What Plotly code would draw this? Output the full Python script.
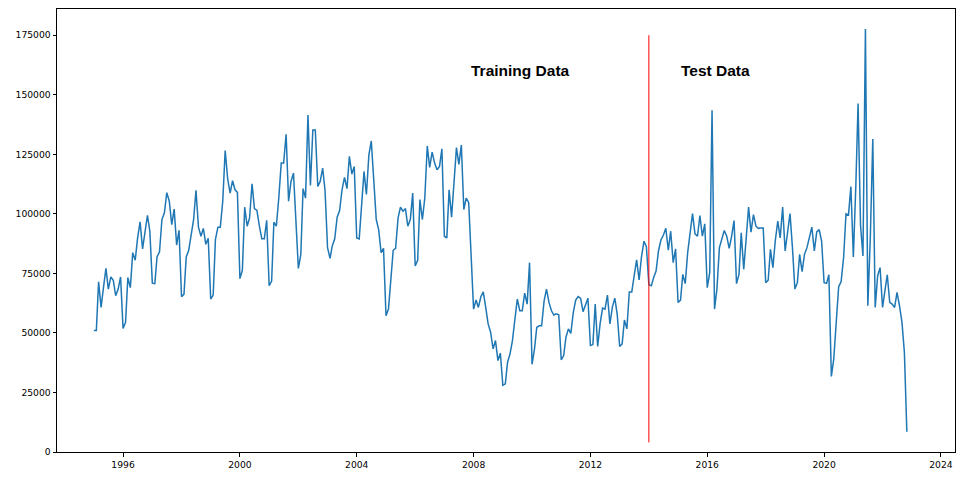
import pandas as pd
import plotly.graph_objects as go

start_month = "1995-01-01"
values = [
    51000, 51000, 71500, 60700, 69000, 77100, 68400, 73500, 72100, 65600, 68400, 73500,
    51900, 54400, 73200, 69000, 83700, 80500, 89900, 96600, 85300, 92700, 99400, 92700,
    70900, 70700, 81900, 84100, 97600, 100400, 108900, 105300, 95500, 102000, 86900, 93100,
    65200, 66300, 81900, 84700, 92000, 97600, 109900, 94400, 90600, 93900, 87200, 89700,
    64200, 65900, 89200, 94400, 94400, 105500, 126600, 114700, 108700, 113900, 110100, 109000,
    72800, 76300, 102800, 94800, 98300, 112600, 102200, 101400, 94800, 89500, 89500, 97300,
    69800, 71800, 96500, 94800, 106600, 121300, 121300, 133400, 105300, 113600, 117100, 95500,
    77100, 83000, 110600, 106600, 141500, 111900, 135200, 135200, 111500, 113600, 119200, 109700,
    85800, 81300, 86500, 89500, 98600, 101400, 110100, 115300, 110600, 124100, 116700, 119900,
    89900, 89500, 105300, 117800, 108100, 124800, 130600, 113600, 97600, 93400, 83700, 85500,
    57200, 60000, 72000, 84700, 85500, 98300, 102800, 101100, 102200, 94800, 97600, 108700,
    78100, 80500, 106000, 97600, 106600, 128500, 119500, 125900, 121300, 118500, 119900, 127300,
    90600, 89900, 110100, 98600, 113000, 127800, 120800, 128900, 101800, 106600, 104800, 82000,
    60000, 63800, 60700, 65200, 67200, 60700, 53800, 50300, 43300, 46800, 38400, 41500,
    28000, 28600, 37700, 41200, 46800, 55800, 64200, 59300, 59300, 66700, 62100, 79500,
    36800, 43300, 52300, 53000, 53000, 63500, 68400, 62800, 59300, 57500, 58000, 57600,
    38700, 40500, 48200, 51700, 49800, 58600, 63800, 65300, 64500, 58900, 61400, 64600,
    44700, 45100, 62100, 44300, 53800, 60400, 60000, 65900, 53800, 60700, 64600, 57900,
    44300, 45400, 55400, 51700, 67200, 67200, 74000, 80700, 72300, 82000, 88500, 86200,
    70200, 69800, 73200, 76000, 84400, 89000, 91000, 93900, 84700, 92700, 79500, 85300,
    62800, 63800, 74600, 70700, 83700, 93400, 100100, 91600, 90600, 99300, 90600, 95800,
    69000, 75300, 143500, 60000, 68400, 85800, 89200, 93000, 90600, 85500, 90600, 97200,
    70700, 74600, 92000, 76700, 89200, 102800, 92300, 99700, 94800, 93900, 94000, 94000,
    71100, 72100, 85100, 77400, 88800, 96900, 89900, 102800, 84400, 93000, 100100, 86000,
    68400, 71100, 83000, 75700, 83000, 85800, 89900, 94400, 84400, 92400, 93400, 88500,
    71100, 70800, 74400, 31700, 39100, 57200, 69300, 71600, 81600, 100000, 99500, 111500,
    81900, 112000, 146300, 95000, 82300, 177600, 61400, 90000, 131400, 60700, 74000, 77400,
    60700, 68000, 74400, 62800, 62100, 60700, 67000, 61400, 54400, 41900, 8500,
]
dates = pd.date_range(start_month, periods=len(values), freq="MS")

split_date = "2014-01-01"
split_ymin = 4000
split_ymax = 175000

labels = ["Training Data", "Test Data"]
label_x = ["2007-11-10", "2015-01-10"]
label_y = [160000, 160200]

y_ticks = [0, 25000, 50000, 75000, 100000, 125000, 150000, 175000]
x_tick_years = [1996, 2000, 2004, 2008, 2012, 2016, 2020, 2024]

fig = go.Figure()
fig.add_trace(go.Scatter(x=dates, y=values, mode="lines",
                         line=dict(color="#1f77b4", width=1.5), showlegend=False))
fig.add_trace(go.Scatter(x=[split_date, split_date], y=[split_ymin, split_ymax], mode="lines",
                         line=dict(color="red", width=1), showlegend=False))

for t, xx, yy in zip(labels, label_x, label_y):
    fig.add_annotation(x=xx, y=yy, text="<b>" + t + "</b>", showarrow=False,
                       xanchor="left", yanchor="middle",
                       font=dict(family="Liberation Sans", size=15.5, color="black"))

axis_common = dict(showline=True, linecolor="black", linewidth=1, mirror=True,
                   showgrid=False, zeroline=False, ticks="outside", ticklen=3.5,
                   tickcolor="black", tickwidth=1,
                   tickfont=dict(family="DejaVu Sans", size=9.2, color="black"))

fig.update_xaxes(range=["1993-09-27", "2024-06-25"],
                 tickvals=[f"{y}-01-01" for y in x_tick_years],
                 ticktext=[str(y) for y in x_tick_years], **axis_common)
fig.update_yaxes(range=[0, 186000], tickvals=y_ticks,
                 ticktext=[str(v) for v in y_ticks], **axis_common)

# page body has an 8px default margin, so the figure is sized to fit inside the window
fig.update_layout(width=950, height=461, margin=dict(l=49, r=3, t=1, b=17, autoexpand=False),
                  plot_bgcolor="white", paper_bgcolor="white")

fig.write_html("out.html")
